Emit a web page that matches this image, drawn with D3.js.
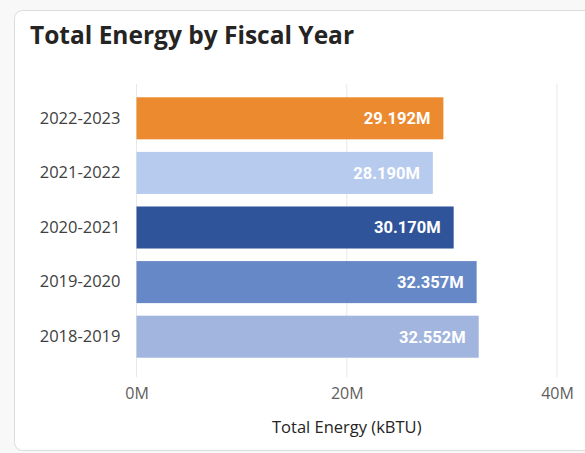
<!DOCTYPE html>
<html>
<head>
<meta charset="utf-8">
<script src="https://cdn.jsdelivr.net/npm/d3@7"></script>
<style>
  body { margin: 0; background: #f8f8f8; }
  svg { display: block; }
</style>
</head>
<body>
<svg id="chart"></svg>
<script>
// data
const years = ["2022-2023", "2021-2022", "2020-2021", "2019-2020", "2018-2019"];
const energy = [29.192, 28.190, 30.170, 32.357, 32.552]; // millions of kBTU
const barColors = ["#EC8A2F", "#B7CBEE", "#30549A", "#6688C6", "#A2B5DE"];
const xTicks = [0, 20, 40];

const width = 585, height = 453;
const margin = { top: 91, left: 136.5, right: 28, bottom: 89 };

const svg = d3.select("#chart")
    .attr("width", width)
    .attr("height", height);

// card
svg.append("rect")
    .attr("x", 14.5).attr("y", 10.5)
    .attr("width", 600).attr("height", 440)
    .attr("rx", 8)
    .attr("fill", "#fff")
    .attr("stroke", "#dcdcdc");

svg.append("text")
    .attr("x", 30).attr("y", 44)
    .attr("font-family", "'Open Sans', sans-serif")
    .attr("font-weight", 700)
    .attr("font-size", 24.5)
    .attr("fill", "#252423")
    .text("Total Energy by Fiscal Year");

const xScale = d3.scaleLinear()
    .domain([0, 40])
    .range([margin.left, 557]);

const yScale = d3.scaleBand()
    .domain(years)
    .range([margin.top, height - margin.bottom])
    .paddingInner(0.23)
    .paddingOuter(0.115);

// gridlines
svg.append("g")
    .selectAll("line")
    .data(xTicks)
    .join("line")
    .attr("x1", d => xScale(d)).attr("x2", d => xScale(d))
    .attr("y1", 84).attr("y2", 377)
    .attr("stroke", "#e8e8e8")
    .attr("stroke-width", 1);

const data = years.map((y, i) => ({ year: y, value: energy[i], color: barColors[i] }));

svg.append("g")
    .selectAll("rect")
    .data(data)
    .join("rect")
    .attr("x", xScale(0))
    .attr("y", d => yScale(d.year))
    .attr("width", d => xScale(d.value) - xScale(0))
    .attr("height", yScale.bandwidth())
    .attr("fill", d => d.color);

// value labels inside bars
svg.append("g")
    .selectAll("text")
    .data(data)
    .join("text")
    .attr("x", d => xScale(d.value) - 13)
    .attr("y", d => yScale(d.year) + yScale.bandwidth() / 2)
    .attr("dy", "0.36em")
    .attr("text-anchor", "end")
    .attr("font-family", "'Roboto', sans-serif")
    .attr("font-weight", 700)
    .attr("font-size", 16.5)
    .attr("fill", "#fff")
    .text(d => d.value.toFixed(3) + "M");

// y axis labels
const yAxis = d3.axisLeft(yScale).tickSize(0).tickPadding(16);
svg.append("g")
    .attr("transform", `translate(${margin.left},0)`)
    .call(yAxis)
    .call(g => g.select(".domain").remove())
    .call(g => g.selectAll("text")
        .attr("font-family", "'Open Sans', sans-serif")
        .attr("font-size", 16.5)
        .attr("fill", "#404040"));

// x axis
const xAxis = d3.axisBottom(xScale)
    .tickValues(xTicks)
    .tickSize(0)
    .tickPadding(0)
    .tickFormat(d => d + "M");
svg.append("g")
    .attr("transform", "translate(0,388)")
    .call(xAxis)
    .call(g => g.select(".domain").remove())
    .call(g => g.selectAll("text")
        .attr("font-family", "'Open Sans', sans-serif")
        .attr("font-size", 16)
        .attr("fill", "#605e5c"));

svg.append("text")
    .attr("x", xScale(20))
    .attr("y", 433)
    .attr("text-anchor", "middle")
    .attr("font-family", "'Open Sans', sans-serif")
    .attr("font-size", 16.5)
    .attr("fill", "#252423")
    .text("Total Energy (kBTU)");
</script>
</body>
</html>
